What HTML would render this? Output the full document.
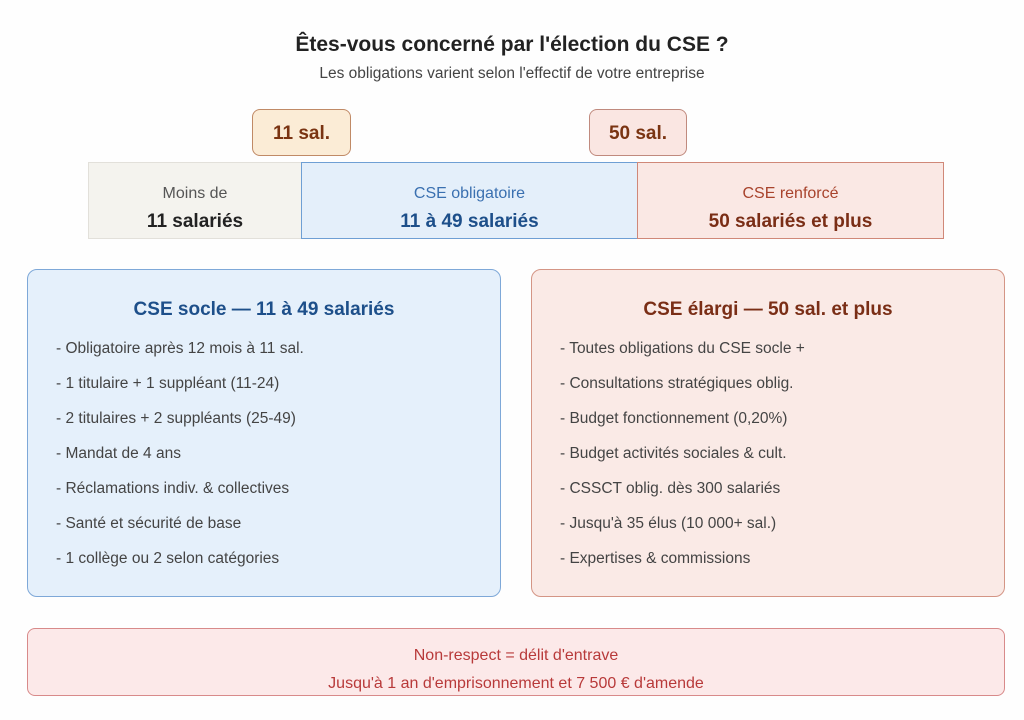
<!DOCTYPE html>
<html><head><meta charset="utf-8"><style>
body{margin:0;width:1024px;height:720px;background:#fefefe;font-family:"Liberation Sans",sans-serif;position:relative;overflow:hidden}
.a{position:absolute;box-sizing:border-box}
.c{text-align:center}
.t{position:absolute;white-space:nowrap}
.li{position:absolute;left:28px;font-size:15.5px;color:#444;white-space:nowrap}
</style></head><body>
<div class="t c" style="left:0;width:1024px;top:33px;font-size:21px;font-weight:bold;color:#222">Êtes-vous concerné par l'élection du CSE ?</div>
<div class="t c" style="left:0;width:1024px;top:65px;font-size:15.5px;color:#444">Les obligations varient selon l'effectif de votre entreprise</div>

<div class="a c" style="left:252px;top:109px;width:99px;height:47px;background:#fbecd6;border:1px solid #c08a66;border-radius:8px;font-size:19px;font-weight:bold;color:#7a3412;line-height:47px">11 sal.</div>
<div class="a c" style="left:589px;top:109px;width:98px;height:47px;background:#fae6e2;border:1px solid #c08a7e;border-radius:8px;font-size:19px;font-weight:bold;color:#7a3412;line-height:47px">50 sal.</div>

<div class="a c" style="left:88px;top:162px;width:214px;height:77px;background:#f4f3ee;border:1px solid #e2e0da;border-right:1px dashed #888">
<div style="margin-top:22px;font-size:16px;color:#555">Moins de</div>
<div style="margin-top:8px;font-size:19px;font-weight:bold;color:#222">11 salariés</div></div>
<div class="a c" style="left:301px;top:162px;width:337px;height:77px;background:#e4effa;border:1px solid #6e9fd4;border-right:1px dashed #888">
<div style="margin-top:22px;font-size:16px;color:#3a70b0">CSE obligatoire</div>
<div style="margin-top:8px;font-size:19px;font-weight:bold;color:#1d4f8a">11 à 49 salariés</div></div>
<div class="a c" style="left:637px;top:162px;width:307px;height:77px;background:#fae8e4;border:1px solid #d08878">
<div style="margin-top:22px;font-size:16px;color:#a8432c">CSE renforcé</div>
<div style="margin-top:8px;font-size:19px;font-weight:bold;color:#7a2e16">50 salariés et plus</div></div>

<div class="a" style="left:27px;top:269px;width:474px;height:328px;background:#e5f0fb;border:1px solid #7ea8d8;border-radius:10px">
<div class="t c" style="left:0;width:472px;top:29px;font-size:19px;font-weight:bold;color:#1d4f8a">CSE socle — 11 à 49 salariés</div>
<div class="li" style="top:70px">- Obligatoire après 12 mois à 11 sal.</div>
<div class="li" style="top:105px">- 1 titulaire + 1 suppléant (11-24)</div>
<div class="li" style="top:140px">- 2 titulaires + 2 suppléants (25-49)</div>
<div class="li" style="top:175px">- Mandat de 4 ans</div>
<div class="li" style="top:210px">- Réclamations indiv. &amp; collectives</div>
<div class="li" style="top:245px">- Santé et sécurité de base</div>
<div class="li" style="top:280px">- 1 collège ou 2 selon catégories</div>
</div>

<div class="a" style="left:531px;top:269px;width:474px;height:328px;background:#faeae6;border:1px solid #d49585;border-radius:10px">
<div class="t c" style="left:0;width:472px;top:29px;font-size:19px;font-weight:bold;color:#7a2e16">CSE élargi — 50 sal. et plus</div>
<div class="li" style="top:70px">- Toutes obligations du CSE socle +</div>
<div class="li" style="top:105px">- Consultations stratégiques oblig.</div>
<div class="li" style="top:140px">- Budget fonctionnement (0,20%)</div>
<div class="li" style="top:175px">- Budget activités sociales &amp; cult.</div>
<div class="li" style="top:210px">- CSSCT oblig. dès 300 salariés</div>
<div class="li" style="top:245px">- Jusqu'à 35 élus (10 000+ sal.)</div>
<div class="li" style="top:280px">- Expertises &amp; commissions</div>
</div>

<div class="a c" style="left:27px;top:628px;width:978px;height:68px;background:#fce9e9;border:1px solid #d88a8a;border-radius:8px;color:#b83a3a;font-size:16px">
<div style="margin-top:18px">Non-respect = délit d'entrave</div>
<div style="margin-top:10px">Jusqu'à 1 an d'emprisonnement et 7 500 € d'amende</div></div>
</body></html>
